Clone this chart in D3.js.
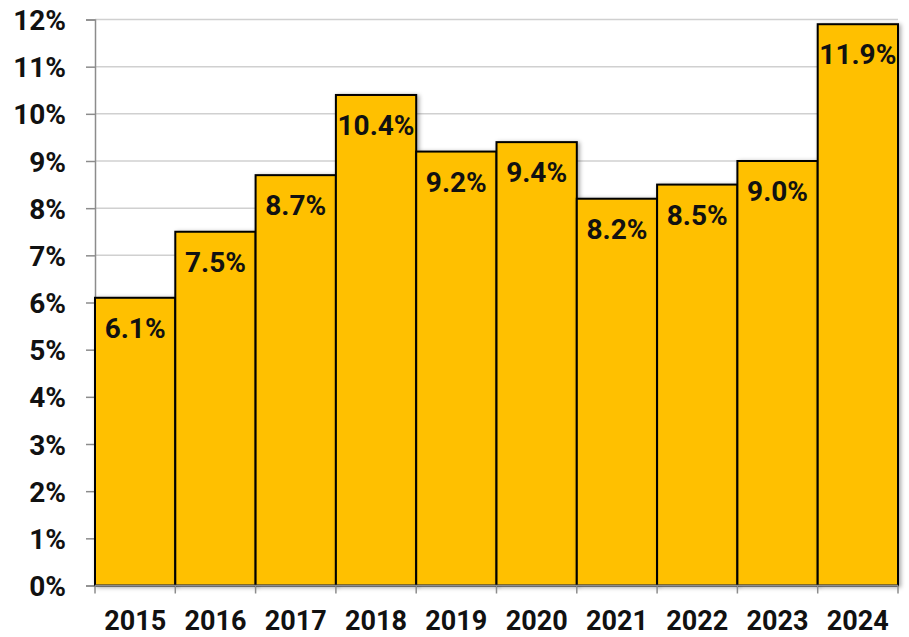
<!DOCTYPE html>
<html>
<head>
<meta charset="utf-8">
<script src="https://cdn.jsdelivr.net/npm/d3@7"></script>
<style>
  body { margin: 0; background: #fff; }
  text { font-family: Roboto, "Open Sans", sans-serif; font-weight: 700; fill: #111; }
</style>
</head>
<body>
<div id="host"></div>
<script>
// Data
const years = ["2015", "2016", "2017", "2018", "2019", "2020", "2021", "2022", "2023", "2024"];
const rates = [6.1, 7.5, 8.7, 10.4, 9.2, 9.4, 8.2, 8.5, 9.0, 11.9];
const yTicks = [0, 1, 2, 3, 4, 5, 6, 7, 8, 9, 10, 11, 12];

// Layout constants
const width = 909;
const height = 637;
const margin = {top: 19.5, right: 11, bottom: 51.5, left: 95};

const svg = d3.select("#host")
    .append("svg")
    .attr("width", width)
    .attr("height", height);

// Soft shadow behind the bars
const defs = svg.append("defs");
const filter = defs.append("filter").attr("id", "shadow")
    .attr("x", "-10%").attr("y", "-10%").attr("width", "130%").attr("height", "130%");
filter.append("feDropShadow")
    .attr("dx", 2).attr("dy", 1).attr("stdDeviation", 2)
    .attr("flood-color", "#000").attr("flood-opacity", 0.35);

const x = d3.scaleBand()
    .domain(years)
    .range([margin.left, width - margin.right])
    .padding(0);

const y = d3.scaleLinear()
    .domain([0, 12])
    .range([height - margin.bottom, margin.top]);

// Gridlines
svg.append("g")
    .selectAll("line")
    .data(yTicks.slice(1))
    .join("line")
    .attr("x1", margin.left)
    .attr("x2", width - margin.right)
    .attr("y1", d => y(d))
    .attr("y2", d => y(d))
    .attr("stroke", "#d0d0d0")
    .attr("stroke-width", 1.5);

// Y axis
const yAxis = svg.append("g")
    .attr("transform", `translate(${margin.left},0)`)
    .call(d3.axisLeft(y).tickValues(yTicks).tickSize(9).tickPadding(20)
        .tickFormat(d => d + "%"));
yAxis.select(".domain").attr("stroke", "#8c8c8c").attr("stroke-width", 1.5);
yAxis.selectAll(".tick line").attr("stroke", "#8c8c8c").attr("stroke-width", 1.5);
yAxis.selectAll(".tick text")
    .attr("font-size", 28)
    .attr("font-family", null)
    .attr("fill", "#111")
    .attr("dy", "0.36em");

// Bars
svg.append("g")
    .selectAll("rect")
    .data(rates)
    .join("rect")
    .attr("x", (d, i) => x(years[i]))
    .attr("y", d => y(d))
    .attr("width", x.bandwidth())
    .attr("height", d => y(0) - y(d))
    .attr("fill", "#FFC000")
    .attr("stroke", "#000")
    .attr("stroke-width", 2)
    .attr("filter", "url(#shadow)");

// X axis
const xAxis = svg.append("g")
    .attr("transform", `translate(0,${y(0)})`);
xAxis.append("line")
    .attr("x1", margin.left).attr("x2", width - margin.right)
    .attr("stroke", "#8c8c8c").attr("stroke-width", 1.5);
const edges = years.map(yr => x(yr)).concat([width - margin.right]);
xAxis.selectAll(".edge")
    .data(edges)
    .join("line")
    .attr("class", "edge")
    .attr("x1", d => d).attr("x2", d => d)
    .attr("y1", 0).attr("y2", 8)
    .attr("stroke", "#8c8c8c").attr("stroke-width", 1.5);
xAxis.selectAll(".yr")
    .data(years)
    .join("text")
    .attr("class", "yr")
    .attr("x", d => x(d) + x.bandwidth() / 2)
    .attr("y", 44)
    .attr("text-anchor", "middle")
    .attr("font-size", 27)
    .text(d => d);

// Value labels inside the bars
svg.append("g")
    .selectAll("text")
    .data(rates)
    .join("text")
    .attr("x", (d, i) => x(years[i]) + x.bandwidth() / 2)
    .attr("y", d => y(d) + 40)
    .attr("text-anchor", "middle")
    .attr("font-size", 28)
    .text(d => d.toFixed(1) + "%");
</script>
</body>
</html>
